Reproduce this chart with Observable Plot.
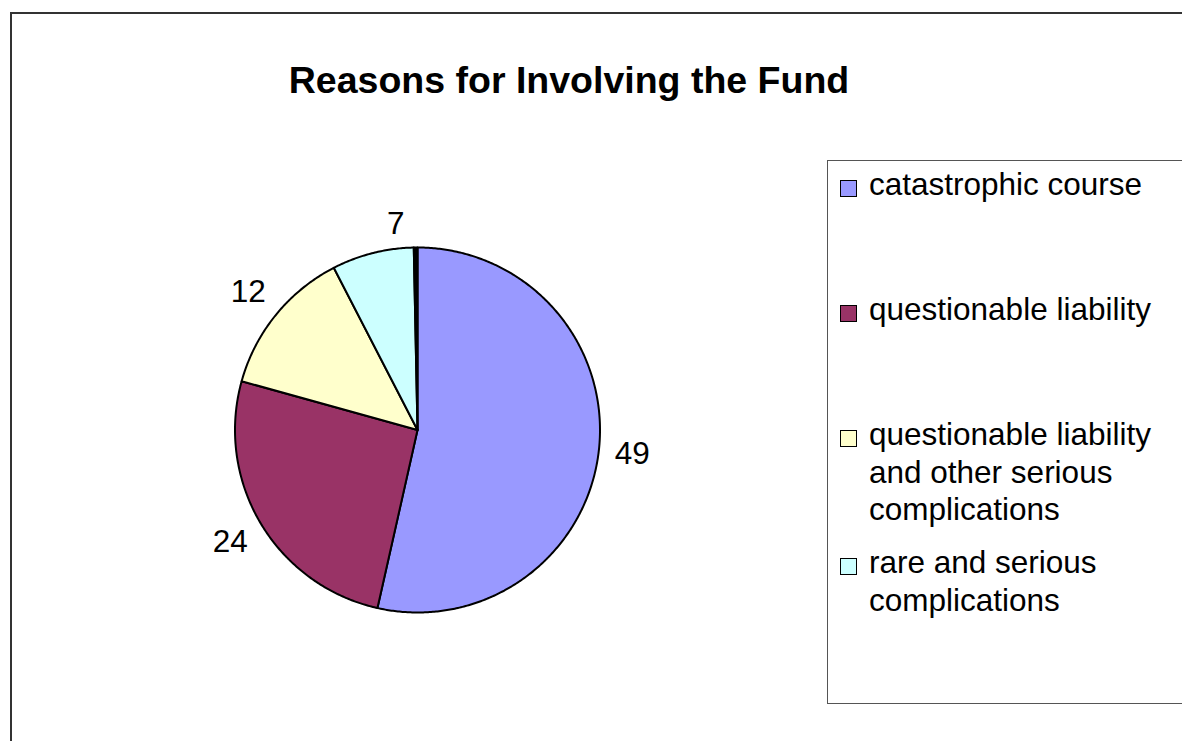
<!DOCTYPE html>
<html>
<head>
<meta charset="utf-8">
<script src="https://cdn.jsdelivr.net/npm/d3@7"></script>
<script src="https://cdn.jsdelivr.net/npm/@observablehq/plot@0.6"></script>
<style>
  html, body { margin: 0; padding: 0; background: #fff; }
  body { width: 1182px; height: 741px; position: relative; overflow: hidden;
         font-family: "Liberation Sans", Arial, Helvetica, sans-serif; color: #000; }
  #frame { position: absolute; left: 10px; top: 12px; width: 1300px; height: 900px;
           border: 2px solid #333; box-sizing: border-box; }
  #title { position: absolute; left: 0; top: 62px; width: 1138px; text-align: center;
           font-size: 37.5px; font-weight: bold; line-height: 1; }
  #chart { position: absolute; left: 0; top: 0; }
  #legend { position: absolute; left: 827px; top: 160px; width: 500px; height: 544px;
            border: 1.5px solid #555; box-sizing: border-box; }
  .item { position: absolute; left: 869px; width: 300px; font-size: 31.5px; line-height: 37.5px; }
  .swatch { position: absolute; left: 840px; width: 15px; height: 15px; border: 1.5px solid #000; }
</style>
</head>
<body>
<div id="frame"></div>
<div id="title">Reasons for Involving the Fund</div>
<div id="chart"></div>
<div id="legend"></div>
<script>
// ---- data ----
const categories = [
  "catastrophic course",
  "questionable liability",
  "questionable liability and other serious complications",
  "rare and serious complications",
  "(unlabelled sliver)"
];
const values = [49.4, 23.8, 12.1, 6.7, 0.3];
const labels = ["49", "24", "12", "7", ""];
const colors = ["#9999FF", "#993366", "#FFFFCC", "#CCFFFF", "#000000"];
const legendCount = 4; // first four categories appear in the legend

// ---- layout ----
const W = 1182, H = 741;
const cx = 417, cy = 429.5, r = 182.5;
const labelFont = 31.5;
// small placement tweak (pixels) for the crowded label near the top of the pie
const labelShift = {"7": [30, -2]};

// ---- slices from data ----
const total = d3.sum(values);
let acc = 0;
const slices = values.map((v, i) => {
  const a0 = acc / total * 2 * Math.PI;
  acc += v;
  const a1 = acc / total * 2 * Math.PI;
  return {cat: categories[i], label: labels[i], a0, a1};
});

const pts = [];
slices.forEach(s => {
  pts.push({cat: s.cat, x: 0, y: 0});
  const n = Math.max(2, Math.ceil((s.a1 - s.a0) / (Math.PI / 360)));
  for (let j = 0; j <= n; j++) {
    const a = s.a0 + (s.a1 - s.a0) * j / n;
    pts.push({cat: s.cat, x: Math.sin(a), y: Math.cos(a)});
  }
});

const labelData = slices.filter(s => s.label !== "").map(s => {
  const mid = (s.a0 + s.a1) / 2;
  const w = s.label.length * 0.556 * labelFont;
  const h = 0.716 * labelFont;
  const R = (r + 15 + (w / 2) * Math.abs(Math.sin(mid)) + (h / 2) * Math.abs(Math.cos(mid))) / r;
  const sh = labelShift[s.label] || [0, 0];
  return {text: s.label, x: R * Math.sin(mid), y: R * Math.cos(mid), dx: sh[0], dy: sh[1]};
});

const plot = Plot.plot({
  width: W,
  height: H,
  margin: 0,
  x: {domain: [-1, 1], range: [cx - r, cx + r], axis: null},
  y: {domain: [-1, 1], range: [cy + r, cy - r], axis: null},
  color: {domain: categories, range: colors},
  style: {background: "transparent", overflow: "visible"},
  marks: [
    Plot.line(pts, {x: "x", y: "y", z: "cat", fill: "cat", stroke: "#000",
                    strokeWidth: 2, strokeLinejoin: "round", curve: "linear-closed"}),
    ...labelData.map(d => Plot.text([d], {x: "x", y: "y", text: "text", dx: d.dx, dy: d.dy,
                          fontSize: labelFont,
                          fontFamily: "Liberation Sans, Arial, sans-serif",
                          fill: "#000", textAnchor: "middle", lineAnchor: "middle"}))
  ]
});
document.getElementById("chart").appendChild(plot);

// ---- legend (built from the same arrays) ----
const itemTops = [166, 291, 416, 544];
for (let i = 0; i < legendCount; i++) {
  const sw = document.createElement("div");
  sw.className = "swatch";
  sw.style.top = (itemTops[i] + 14) + "px";
  sw.style.background = colors[i];
  document.body.appendChild(sw);
  const it = document.createElement("div");
  it.className = "item";
  it.style.top = itemTops[i] + "px";
  it.textContent = categories[i];
  document.body.appendChild(it);
}
</script>
</body>
</html>
